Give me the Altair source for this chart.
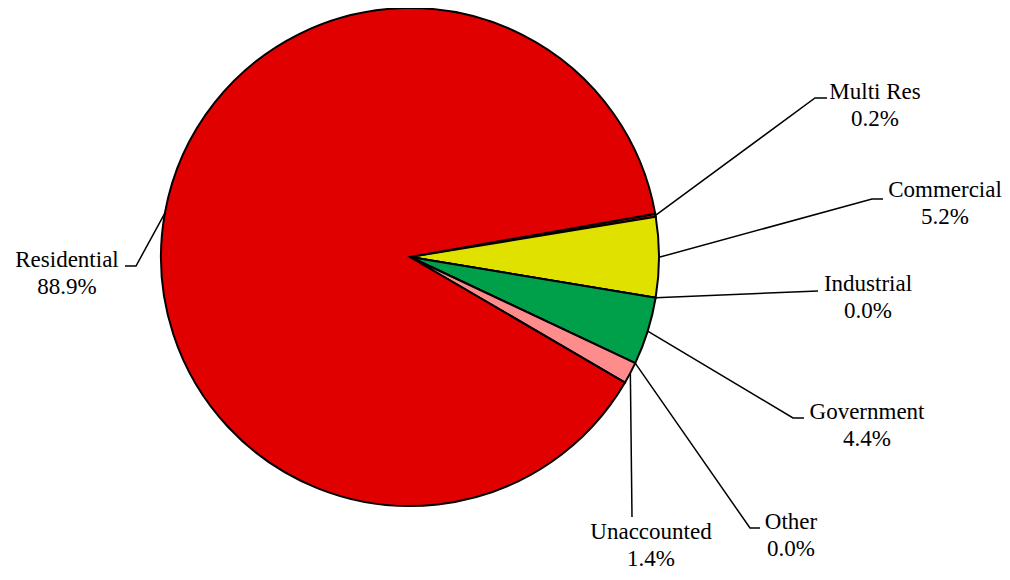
import math
import altair as alt
import pandas as pd

# ---- data ----
categories = ["Multi Res", "Commercial", "Industrial", "Government", "Other", "Unaccounted", "Residential"]
shares = [0.2, 5.2, 0.0, 4.4, 0.0, 1.4, 88.9]
colors = ["#B00000", "#E1E100", "#7F7F7F", "#00A04B", "#4472C4", "#FF8C8C", "#E00000"]

# ---- layout (image pixel coordinates) ----
W, H = 994, 564
M = 8
CX, CY, R = 410, 257, 249
START_DEG = 80
label_pos = [(875, 92), (945, 190), (868, 284), (867, 412), (791, 522), (651, 532), (67, 260)]
elbow_pos = [(815, 98), (872, 199), (818, 291), (793, 418), (750, 528), (632, 517), (136, 266)]
tail_pos = [(827, 98), (883, 199), (818, 291), (804, 418), (760, 528), (632, 517), (125, 266)]

total = sum(shares)
cum = 0.0
pie_rows, line_rows, text_rows = [], [], []
for i, (c, v) in enumerate(zip(categories, shares)):
    mid = math.radians(START_DEG + (cum + v / 2) / total * 360)
    cum += v
    sx = CX + R * math.sin(mid)
    sy = CY - R * math.cos(mid)
    for k, (px, py) in enumerate([(sx, sy), elbow_pos[i], tail_pos[i]]):
        line_rows.append(dict(cat=c, k=k, px=px, py=py))
    text_rows.append(dict(cat=c, text=f"{c}\n{v:.1f}%", px=label_pos[i][0], py=label_pos[i][1]))
    pie_rows.append(dict(cat=c, share=v, idx=i))

pie_df = pd.DataFrame(pie_rows)
line_df = pd.DataFrame(line_rows)
text_df = pd.DataFrame(text_rows)

start = math.radians(START_DEG)
pie = alt.Chart(pie_df).mark_arc(
    radius=R, stroke="black", strokeWidth=2, x=CX - M, y=CY - M
).encode(
    theta=alt.Theta("share:Q", stack=True, scale=alt.Scale(range=[start, start + 2 * math.pi])),
    color=alt.Color("cat:N", scale=alt.Scale(domain=categories, range=colors), legend=None),
    order=alt.Order("idx:Q"),
)

xs = alt.Scale(domain=[M, M + W], nice=False, zero=False)
ys = alt.Scale(domain=[M, M + H], nice=False, zero=False, reverse=True)

lines = alt.Chart(line_df).mark_line(color="black", strokeWidth=1.5).encode(
    x=alt.X("px:Q", scale=xs, axis=None),
    y=alt.Y("py:Q", scale=ys, axis=None),
    detail="cat:N",
    order="k:Q",
)

texts = alt.Chart(text_df).mark_text(
    font="Liberation Serif", fontSize=23, lineHeight=27, align="center",
    baseline="middle", lineBreak="\n", color="black"
).encode(
    x=alt.X("px:Q", scale=xs, axis=None),
    y=alt.Y("py:Q", scale=ys, axis=None),
    text="text:N",
)

chart = alt.layer(pie, lines, texts).properties(
    width=W, height=H, padding=0, autosize="none"
).configure_view(strokeWidth=0)

chart.save("out.html", embed_options={"renderer": "svg", "actions": False})
